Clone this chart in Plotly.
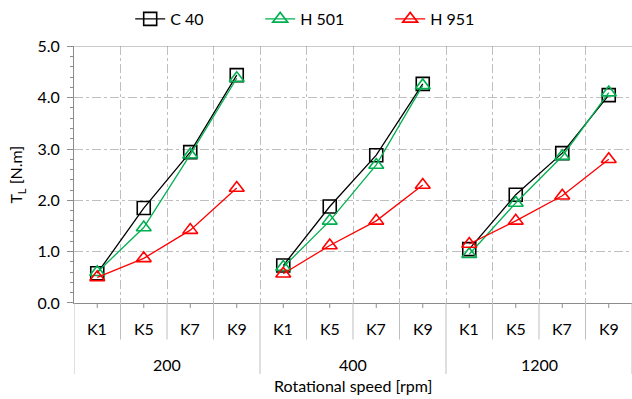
import plotly.graph_objects as go

groups = ["200", "400", "1200"]
cats = ["K1", "K5", "K7", "K9"]

c40 = [0.58, 1.85, 2.94, 4.44, 0.73, 1.88, 2.88, 4.27, 1.05, 2.11, 2.92, 4.05]
h501 = [0.60, 1.47, 2.89, 4.38, 0.70, 1.60, 2.69, 4.24, 0.95, 1.95, 2.86, 4.10]
h951 = [0.50, 0.87, 1.42, 2.24, 0.57, 1.12, 1.60, 2.30, 1.15, 1.60, 2.09, 2.80]

series = [
    ("C 40", c40, "#000000", "square-open", 13),
    ("H 501", h501, "#00B050", "triangle-up-open", 13),
    ("H 951", h951, "#FF0000", "triangle-up-open", 13),
]

ncat = len(cats)
n = len(groups) * ncat

def gapped(vals):
    xs, ys = [], []
    for g in range(len(groups)):
        for k in range(ncat):
            i = g * ncat + k
            xs.append(i)
            ys.append(vals[i])
        xs.append(None)
        ys.append(None)
    return xs, ys

fig = go.Figure()
for name, vals, col, sym, sz in series:
    xs, ys = gapped(vals)
    fig.add_trace(go.Scatter(
        x=xs, y=ys, name=name, mode="lines+markers",
        line=dict(color=col, width=1.3),
        marker=dict(symbol=sym, size=sz, color=col, line=dict(color=col, width=1.6)),
        cliponaxis=False, connectgaps=False,
    ))

FONT = "Lato, 'Open Sans', sans-serif"
FS = 16
plot_h = 260.0

def py(px):
    return -(px - 303) / plot_h

grid_col = "#BFBFBF"
axis_col = "#8C8C8C"

shapes = []
# top border line
shapes.append(dict(type="line", xref="paper", yref="y", x0=0, x1=1, y0=5, y1=5,
                   line=dict(color=axis_col, width=1)))
# category tick lines below axis
for i in range(n + 1):
    xv = i - 0.5
    if i % ncat == 0:
        y1 = py(375)
    else:
        y1 = py(340)
    shapes.append(dict(type="line", xref="x", yref="paper", x0=xv, x1=xv, y0=0, y1=y1,
                       line=dict(color=grid_col, width=1)))
for i in range(n):
    shapes.append(dict(type="line", xref="x", yref="paper", x0=i, x1=i, y0=0, y1=py(308),
                       line=dict(color=axis_col, width=1)))

annotations = []
for i in range(n):
    annotations.append(dict(x=i, xref="x", y=py(329), yref="paper", text=cats[i % ncat],
                            showarrow=False, font=dict(size=FS, color="#000000", family=FONT),
                            yanchor="middle", xanchor="center"))
for g, lab in enumerate(groups):
    annotations.append(dict(x=g * ncat + (ncat - 1) / 2, xref="x", y=py(365), yref="paper", text=lab,
                            showarrow=False, font=dict(size=FS, color="#000000", family=FONT),
                            yanchor="middle", xanchor="center"))
annotations.append(dict(x=(n - 1) / 2, xref="x", y=py(387), yref="paper", text="Rotational speed [rpm]",
                        showarrow=False, font=dict(size=FS, color="#000000", family=FONT),
                        yanchor="middle", xanchor="center"))

fig.update_layout(
    width=632, height=399,
    margin=dict(l=74, r=0, t=43, b=96),
    paper_bgcolor="white", plot_bgcolor="white",
    font=dict(family=FONT, size=FS, color="#000000"),
    showlegend=True,
    legend=dict(orientation="h", xref="container", yref="container",
                x=0.206, y=0.995, xanchor="left", yanchor="top",
                entrywidth=85, entrywidthmode="pixels",
                font=dict(size=FS, family=FONT), bgcolor="rgba(0,0,0,0)"),
    xaxis=dict(range=[-0.5, n - 0.5], tickmode="array",
               tickvals=[i + 0.5 for i in range(n - 1)], showticklabels=False,
               showgrid=True, gridcolor=grid_col, griddash="dashdot", gridwidth=1,
               showline=True, linecolor=axis_col, linewidth=1, zeroline=False, ticks=""),
    yaxis=dict(range=[0, 5], tickmode="linear", tick0=0, dtick=1, tickformat=".1f",
               showgrid=True, gridcolor=grid_col, griddash="dashdot", gridwidth=1,
               showline=True, linecolor=axis_col, linewidth=1, zeroline=False,
               ticks="outside", ticklen=6, tickcolor=axis_col,
               minor=dict(dtick=0.2, ticks="outside", ticklen=3, tickcolor=axis_col, showgrid=False),
               tickfont=dict(size=FS), ticklabelstandoff=4,
               title=dict(text="T<sub>L</sub> [N.m]", font=dict(size=FS), standoff=10)),
    shapes=shapes,
    annotations=annotations,
)

fig.write_html("out.html")
